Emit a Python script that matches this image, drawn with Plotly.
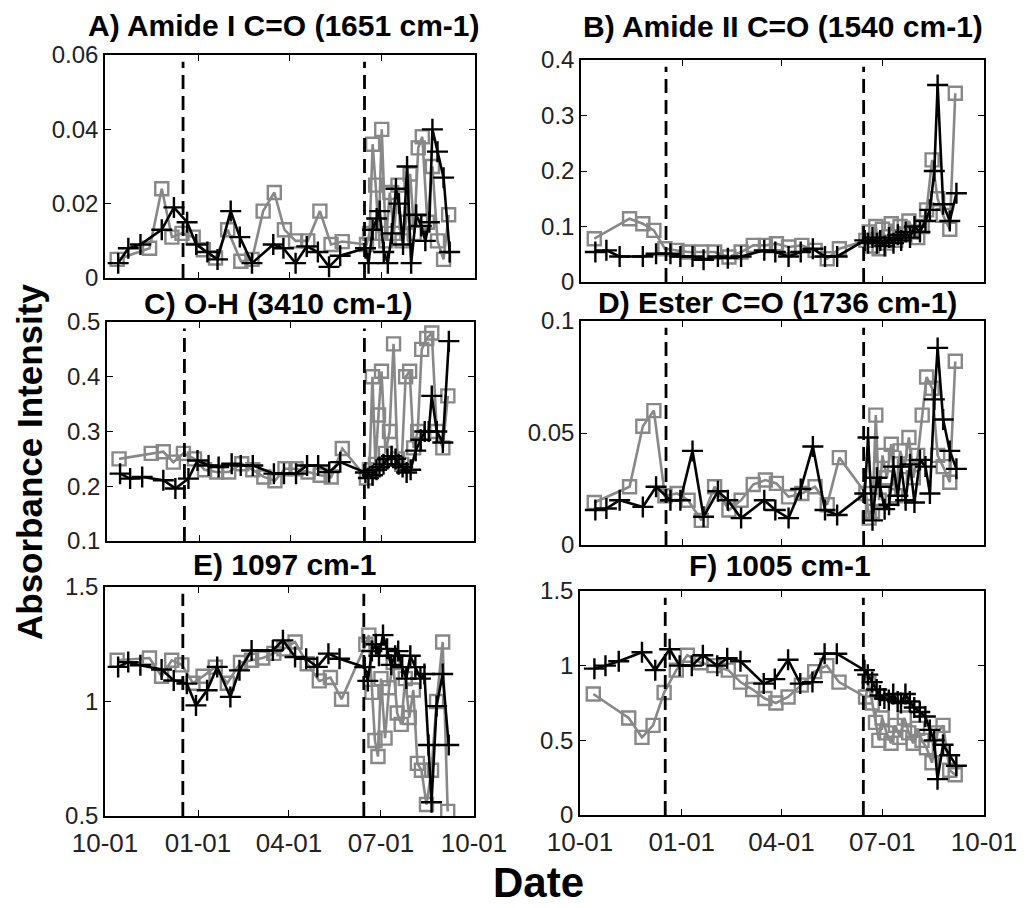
import pandas as pd
import plotly.graph_objects as go

# ---------------- data ----------------
start_date = "2010-10-01"
black_days = [13, 23, 35, 56, 68, 81, 90, 101, 111, 124, 133, 145, 166, 176, 188, 199, 210, 221, 232,
              257, 260, 264, 268, 271, 275, 279, 283, 287, 290, 294, 298, 302, 307, 312, 316, 320, 323, 328, 334, 340]
gray_days = [12, 44, 56, 66, 76, 87, 97, 109, 121, 134, 145, 156, 167, 177, 188, 200, 212, 223, 234,
             258, 261, 264, 267, 270, 273, 277, 281, 285, 289, 293, 297, 301, 305, 309, 313, 318, 323, 328, 334, 339]
event_dates = ["2010-12-17", "2011-06-14"]
tick_dates = ["2010-10-01", "2011-01-01", "2011-04-01", "2011-07-01", "2011-10-01"]

titles = ["A) Amide I C=O (1651 cm-1)", "B) Amide II C=O (1540 cm-1)", "C) O-H (3410 cm-1)",
          "D) Ester C=O (1736 cm-1)", "E) 1097 cm-1", "F) 1005 cm-1"]

A_black = [0.004, 0.008, 0.009, 0.013, 0.019, 0.015, 0.009, 0.007, 0.005, 0.018, 0.011, 0.004, 0.009, 0.008, 0.004, 0.0085, 0.007, 0.003, 0.006,
           0.008, 0.004, 0.013, 0.016, 0.018, 0.007, 0.004, 0.012, 0.024, 0.020, 0.009, 0.030, 0.004, 0.017, 0.014, 0.010, 0.015, 0.040, 0.034, 0.027, 0.007]
A_gray = [0.005, 0.008, 0.024, 0.011, 0.012, 0.011, 0.0076, 0.0054, 0.013, 0.0045, 0.005, 0.018, 0.023, 0.013, 0.010, 0.010, 0.018, 0.009, 0.0098,
          0.009, 0.012, 0.036, 0.025, 0.012, 0.040, 0.010, 0.023, 0.012, 0.025, 0.010, 0.015, 0.028, 0.012, 0.035, 0.038, 0.015, 0.030, 0.010, 0.005, 0.017]

B_black = [0.054, 0.057, 0.046, 0.046, 0.051, 0.051, 0.046, 0.046, 0.040, 0.046, 0.043, 0.046, 0.057, 0.054, 0.046, 0.054, 0.060, 0.046, 0.046,
           0.075, 0.07, 0.08, 0.07, 0.075, 0.065, 0.08, 0.07, 0.085, 0.075, 0.09, 0.08, 0.10, 0.09, 0.11, 0.13, 0.20, 0.355, 0.14, 0.11, 0.16]
B_gray = [0.078, 0.114, 0.105, 0.093, 0.060, 0.057, 0.054, 0.054, 0.054, 0.045, 0.054, 0.066, 0.066, 0.069, 0.063, 0.066, 0.057, 0.042, 0.060,
          0.075, 0.09, 0.065, 0.1, 0.06, 0.095, 0.07, 0.105, 0.075, 0.1, 0.085, 0.11, 0.09, 0.08, 0.1, 0.13, 0.22, 0.15, 0.12, 0.095, 0.34]

C_black = [0.223, 0.214, 0.217, 0.211, 0.196, 0.214, 0.247, 0.238, 0.235, 0.241, 0.238, 0.238, 0.223, 0.223, 0.223, 0.238, 0.238, 0.226, 0.244,
           0.225, 0.215, 0.22, 0.23, 0.235, 0.24, 0.25, 0.255, 0.25, 0.24, 0.235, 0.225, 0.23, 0.265, 0.285, 0.30, 0.30, 0.365, 0.30, 0.28, 0.465]
C_gray = [0.25, 0.26, 0.263, 0.244, 0.26, 0.25, 0.23, 0.226, 0.226, 0.241, 0.23, 0.217, 0.21, 0.232, 0.232, 0.226, 0.22, 0.217, 0.269,
          0.215, 0.23, 0.40, 0.24, 0.33, 0.41, 0.26, 0.30, 0.46, 0.25, 0.24, 0.40, 0.41, 0.27, 0.30, 0.45, 0.47, 0.48, 0.30, 0.27, 0.365]

D_black = [0.0156, 0.0163, 0.020, 0.017, 0.026, 0.020, 0.020, 0.042, 0.0126, 0.024, 0.020, 0.012, 0.020, 0.0156, 0.012, 0.025, 0.044, 0.0156, 0.0134,
           0.023, 0.048, 0.011, 0.030, 0.026, 0.016, 0.018, 0.035, 0.022, 0.035, 0.020, 0.036, 0.019, 0.038, 0.035, 0.023, 0.065, 0.088, 0.056, 0.042, 0.034]
D_gray = [0.019, 0.026, 0.053, 0.060, 0.022, 0.023, 0.020, 0.011, 0.026, 0.0156, 0.020, 0.027, 0.029, 0.0275, 0.0215, 0.023, 0.026, 0.018, 0.039,
          0.023, 0.012, 0.015, 0.058, 0.020, 0.040, 0.030, 0.045, 0.022, 0.042, 0.035, 0.048, 0.030, 0.040, 0.058, 0.075, 0.070, 0.040, 0.035, 0.028, 0.082]

E_black = [1.151, 1.172, 1.158, 1.14, 1.092, 1.078, 0.983, 1.049, 1.151, 1.02, 1.136, 1.223, 1.223, 1.267, 1.194, 1.187, 1.151, 1.209, 1.187,
           1.15, 1.09, 1.22, 1.25, 1.20, 1.29, 1.23, 1.16, 1.20, 1.22, 1.15, 1.10, 1.20, 1.15, 1.10, 1.12, 0.81, 0.56, 0.98, 1.12, 0.81]
E_gray = [1.18, 1.19, 1.11, 1.18, 1.16, 1.08, 1.11, 1.15, 1.08, 1.17, 1.18, 1.19, 1.21, 1.23, 1.26, 1.165, 1.09, 1.105, 1.01,
          1.25, 1.29, 1.04, 0.83, 0.76, 1.10, 0.84, 1.06, 1.17, 0.95, 0.90, 1.10, 0.93, 1.05, 0.73, 0.70, 0.55, 0.70, 1.0, 1.26, 0.52]

F_black = [0.98, 1.0, 1.03, 1.09, 0.97, 1.11, 1.0, 1.0, 1.07, 1.0, 1.05, 1.03, 0.88, 0.91, 1.04, 0.88, 0.89, 1.08, 1.08,
           0.97, 0.94, 0.89, 0.84, 0.80, 0.78, 0.77, 0.81, 0.76, 0.75, 0.81, 0.76, 0.72, 0.69, 0.66, 0.57, 0.50, 0.24, 0.47, 0.40, 0.33]
F_gray = [0.81, 0.65, 0.52, 0.60, 0.82, 0.97, 1.07, 1.02, 1.0, 0.97, 0.89, 0.84, 0.78, 0.75, 0.79, 0.87, 0.96, 1.0, 0.89,
          0.79, 0.88, 0.75, 0.62, 0.50, 0.65, 0.55, 0.48, 0.60, 0.52, 0.65, 0.55, 0.48, 0.58, 0.50, 0.45, 0.35, 0.55, 0.60, 0.30, 0.27]

y_ranges = [[0, 0.06], [0, 0.4], [0.1, 0.5], [0, 0.1], [0.5, 1.5], [0, 1.5]]
y_ticks = [[0, 0.02, 0.04, 0.06], [0, 0.1, 0.2, 0.3, 0.4], [0.1, 0.2, 0.3, 0.4, 0.5],
           [0, 0.05, 0.1], [0.5, 1, 1.5], [0, 0.5, 1, 1.5]]
y_ticktext = [["0", "0.02", "0.04", "0.06"], ["0", "0.1", "0.2", "0.3", "0.4"], ["0.1", "0.2", "0.3", "0.4", "0.5"],
              ["0", "0.05", "0.1"], ["0.5", "1", "1.5"], ["0", "0.5", "1", "1.5"]]
tick_text = ["10-01", "01-01", "04-01", "07-01", "10-01"]

# ---------------- layout geometry (pixels) ----------------
W, H = 1027, 908
boxes = [  # x0, x1, y0(top), y1(bottom)
    (105, 475, 55, 278),
    (581, 984, 60, 282),
    (107, 474, 322, 541),
    (581, 984, 321, 545),
    (105, 474, 587, 816),
    (580, 984, 591, 815),
]
title_pos = [(284, 25), (783, 26), (278, 303), (777, 302), (284, 564), (780, 565)]

base = pd.Timestamp(start_date)
bx = [base + pd.Timedelta(days=d) for d in black_days]
gx = [base + pd.Timedelta(days=d) for d in gray_days]

series = [(A_black, A_gray), (B_black, B_gray), (C_black, C_gray),
          (D_black, D_gray), (E_black, E_gray), (F_black, F_gray)]

GRAY = "#888888"
FONT = "Liberation Sans, Arial, sans-serif"

fig = go.Figure()
layout = dict(width=W, height=H, margin=dict(l=0, r=0, t=0, b=0, autoexpand=False),
              paper_bgcolor="white", plot_bgcolor="white", showlegend=False,
              shapes=[], annotations=[])

for i, ((blk, gry), (x0, x1, y0, y1)) in enumerate(zip(series, boxes)):
    n = i + 1
    xa = "x" if n == 1 else f"x{n}"
    ya = "y" if n == 1 else f"y{n}"
    fig.add_trace(go.Scatter(x=gx, y=gry, xaxis=xa, yaxis=ya, mode="lines+markers",
                             line=dict(color=GRAY, width=2.6),
                             marker=dict(symbol="square-open", size=13, color=GRAY,
                                         line=dict(width=2.4, color=GRAY))))
    fig.add_trace(go.Scatter(x=bx, y=blk, xaxis=xa, yaxis=ya, mode="lines+markers",
                             line=dict(color="black", width=2.6),
                             marker=dict(symbol="cross-thin-open", size=15, color="black",
                                         line=dict(width=2.4, color="black"))))
    bottom = n in (5, 6)
    layout[f"xaxis{'' if n == 1 else n}"] = dict(
        domain=[x0 / W, x1 / W], anchor=ya, type="date", automargin=False,
        range=[tick_dates[0], tick_dates[-1]],
        tickvals=tick_dates, ticktext=tick_text, showticklabels=bottom,
        ticks="inside", ticklen=6, tickwidth=1, tickcolor="black",
        showline=True, linecolor="black", linewidth=1.5, mirror="ticks",
        showgrid=False, zeroline=False, ticklabelstandoff=3,
        tickfont=dict(family=FONT, size=26, color="#222222"))
    layout[f"yaxis{'' if n == 1 else n}"] = dict(
        domain=[1 - y1 / H, 1 - y0 / H], anchor=xa, automargin=False,
        range=y_ranges[i], tickvals=y_ticks[i], ticktext=y_ticktext[i],
        ticks="inside", ticklen=6, tickwidth=1, tickcolor="black",
        showline=True, linecolor="black", linewidth=1.5, mirror="ticks",
        showgrid=False, zeroline=False,
        tickfont=dict(family=FONT, size=24, color="#222222"))
    for d in event_dates:
        layout["shapes"].append(dict(type="line", xref=xa, yref=f"{ya} domain",
                                     x0=d, x1=d, y0=0, y1=0.97,
                                     line=dict(color="black", width=2.8, dash="14px,7px")))
    tx, ty = title_pos[i]
    layout["annotations"].append(dict(text=f"<b>{titles[i]}</b>", xref="paper", yref="paper",
                                      x=tx / W, y=1 - ty / H, xanchor="center", yanchor="middle",
                                      showarrow=False, font=dict(family=FONT, size=30, color="black")))

layout["annotations"].append(dict(text="<b>Absorbance Intensity</b>", xref="paper", yref="paper",
                                  x=30 / W, y=1 - 462 / H, xanchor="center", yanchor="middle",
                                  textangle=-90, showarrow=False,
                                  font=dict(family=FONT, size=35, color="black")))
layout["annotations"].append(dict(text="<b>Date</b>", xref="paper", yref="paper",
                                  x=538 / W, y=1 - 882 / H, xanchor="center", yanchor="middle",
                                  showarrow=False, font=dict(family=FONT, size=42, color="black")))

fig.update_layout(**layout)
fig.write_html("out.html", config={"displayModeBar": False},
               post_script="document.body.style.margin='0px';document.body.style.padding='0px';")
